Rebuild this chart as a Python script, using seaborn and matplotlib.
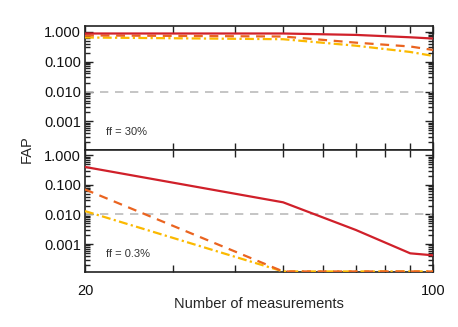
import seaborn as sns
import matplotlib.pyplot as plt
import matplotlib.ticker as mticker
import pandas as pd
import numpy as np

# number of measurements
n_meas = [20, 50, 70, 90, 100]

# FAP, ff = 30%
fap30_solid = [0.87, 0.87, 0.78, 0.65, 0.59]
fap30_dash = [0.75, 0.69, 0.43, 0.32, 0.245]
fap30_dashdot = [0.64, 0.56, 0.34, 0.21, 0.155]

# FAP, ff = 0.3% (lowest values sit on the axis floor)
fap03_solid = [0.40, 0.0257, 0.0030, 0.00049, 0.00042]
fap03_dash = [0.070, 0.00012, 0.00012, 0.00012, 0.00012]
fap03_dashdot = [0.013, 0.00012, 0.00012, 0.00012, 0.00012]

panel_labels = ["ff = 30%", "ff = 0.3%"]
threshold = 0.01

sns.set_style("ticks")
plt.rcParams['font.family'] = ['Liberation Sans', 'DejaVu Sans']

red = "#d0202a"
orange = "#ea6420"
gold = "#fbb900"

fig = plt.figure(figsize=(4.58, 3.27), dpi=100)
ax_top = fig.add_axes([0.1856, 0.5428, 0.7598, 0.3777])
ax_bot = fig.add_axes([0.1856, 0.1682, 0.7598, 0.3746])

panels = [
    (ax_top, fap30_solid, fap30_dash, fap30_dashdot, panel_labels[0]),
    (ax_bot, fap03_solid, fap03_dash, fap03_dashdot, panel_labels[1]),
]

for ax, solid, dash, dashdot, lab in panels:
    df = pd.DataFrame({"n": n_meas, "solid": solid, "dash": dash, "dashdot": dashdot})
    ax.axhline(threshold, color="#bbbbbb", lw=1.2, ls=(0, (5, 4)), zorder=1)
    sns.lineplot(data=df, x="n", y="dashdot", ax=ax, color=gold, lw=1.6,
                 linestyle=(0, (4, 1.5, 1, 1.5)), zorder=3)
    sns.lineplot(data=df, x="n", y="dash", ax=ax, color=orange, lw=1.6,
                 linestyle=(0, (4, 3)), zorder=4)
    sns.lineplot(data=df, x="n", y="solid", ax=ax, color=red, lw=1.6, zorder=5)
    ax.set_xscale("log")
    ax.set_yscale("log")
    ax.set_xlim(20, 100)
    ax.set_ylim(1.15e-4, 1.55)
    ax.set_xlabel("")
    ax.set_ylabel("")
    ax.set_yticks([1e-3, 1e-2, 1e-1, 1])
    ax.yaxis.set_major_formatter(mticker.FormatStrFormatter("%.3f"))
    ax.yaxis.set_minor_locator(mticker.LogLocator(base=10, subs=np.arange(2, 10), numticks=20))
    ax.yaxis.set_minor_formatter(mticker.NullFormatter())
    ax.set_xticks([20, 100])
    ax.xaxis.set_minor_locator(mticker.FixedLocator([30, 40, 50, 60, 70, 80, 90]))
    ax.xaxis.set_minor_formatter(mticker.NullFormatter())
    ax.tick_params(which="both", direction="in", top=True, right=True, colors="#222222",
                   labelcolor="#111111", labelsize=10.5, width=1.0)
    ax.tick_params(which="major", length=6, pad=3)
    ax.tick_params(which="minor", length=3.5)
    ax.tick_params(axis="x", which="minor", length=5)
    for s in ax.spines.values():
        s.set_linewidth(1.2)
        s.set_color("#222222")
    ax.text(0.06, 0.12, lab, transform=ax.transAxes, fontsize=8, color="#333333")

ax_top.tick_params(axis="x", labelbottom=False)
ax_bot.tick_params(axis="x", pad=9)
ax_bot.set_xticklabels(["20", "100"])
ax_bot.set_xlabel("Number of measurements", fontsize=10.5, labelpad=-1)
fig.text(0.058, 0.543, "FAP", rotation=90, ha="center", va="center", fontsize=10.5)

fig.savefig("out.png", dpi=100)
